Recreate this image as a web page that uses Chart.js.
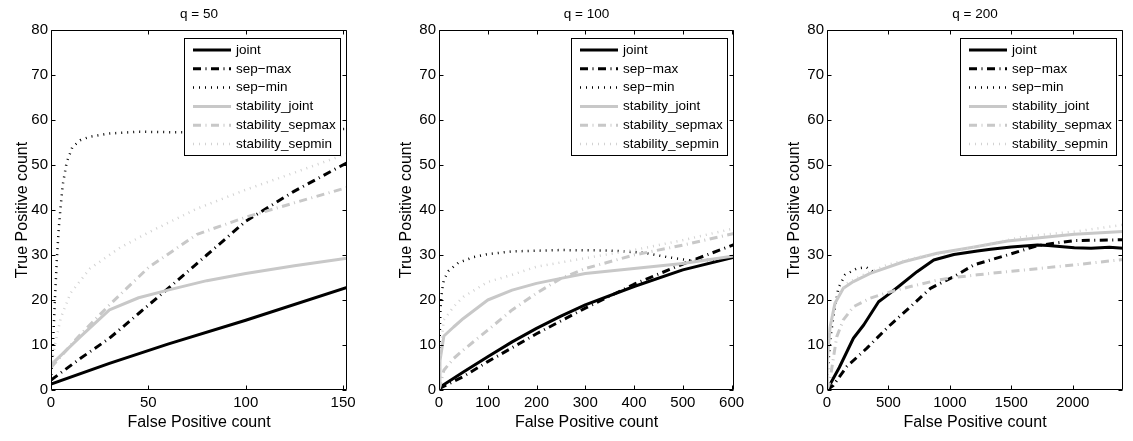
<!DOCTYPE html>
<html>
<head>
<meta charset="utf-8">
<script src="https://cdn.jsdelivr.net/npm/chart.js@4.4.1/dist/chart.umd.min.js"></script>
<style>
  html, body { margin: 0; padding: 0; background: #fff; }
  body { width: 1133px; height: 441px; position: relative; overflow: hidden; }
  canvas { position: absolute; top: 0; }
</style>
</head>
<body>
<canvas id="c1" width="363" height="441" style="left:0px"></canvas>
<canvas id="c2" width="362" height="441" style="left:388px"></canvas>
<canvas id="c3" width="357" height="441" style="left:776px"></canvas>
<script>
// legend labels, in plotting order
const seriesNames = ['joint', 'sep\u2212max', 'sep\u2212min', 'stability_joint', 'stability_sepmax', 'stability_sepmin'];
const panelTitles = ['q = 50', 'q = 100', 'q = 200'];
const xMax = [152, 605, 2410];
const xTicks50 = [0, 50, 100, 150];
const xTicks100 = [0, 100, 200, 300, 400, 500, 600];
const xTicks200 = [0, 500, 1000, 1500, 2000];
const yTicks = [0, 10, 20, 30, 40, 50, 60, 70, 80];

// q = 50   [false positives, true positives]
const q50_joint = [[0,1.3],[30,5.9],[60,10.2],[100,15.5],[152,22.8]];
const q50_sepmax = [[0,2.2],[15,7],[30,11.5],[45,17],[60,22.5],[80,30],[100,37.5],[125,44.2],[152,50.5]];
const q50_sepmin = [[0,2],[1,10],[2,20],[3,29],[4,36],[5,41],[6,45.5],[8,50.5],[11,54],[15,55.5],[20,56.3],[30,57],[45,57.4],[60,57.3],[80,57.2],[100,57.5],[152,58]];
const q50_stabjoint = [[0,5.6],[15,11.8],[30,17.8],[45,20.5],[60,22.2],[80,24.3],[100,25.9],[125,27.6],[152,29.3]];
const q50_stabsepmax = [[0,5],[15,12.3],[30,18.9],[50,27.2],[75,34.6],[100,38.4],[125,41.6],[152,45]];
const q50_stabsepmin = [[0,5],[2,10],[5,16],[10,21.5],[20,27],[35,31.5],[50,35],[75,40.3],[100,44.5],[125,48.3],[152,52.5]];

// q = 100
const q100_joint = [[0,0.5],[50,4],[100,7.4],[150,10.7],[200,13.7],[250,16.4],[300,18.9],[400,23],[500,26.7],[605,29.5]];
const q100_sepmax = [[0,0.3],[50,3],[100,6.3],[200,12.5],[300,18.2],[400,23.5],[500,28],[605,32.3]];
const q100_sepmin = [[0,0],[1,10],[3,18],[6,22],[10,24.5],[20,26.5],[40,28.3],[70,29.5],[100,30.2],[150,30.8],[250,31.1],[350,31],[420,30.5],[470,29.5],[520,28.7],[570,29],[605,29.7]];
const q100_stabjoint = [[0,1],[2,6.5],[10,12],[30,14],[50,15.9],[100,20],[150,22.2],[200,23.7],[250,24.8],[300,25.9],[400,27],[500,28.1],[605,29.8]];
const q100_stabsepmax = [[0,0],[10,4.4],[30,7],[50,8.9],[100,13.3],[150,17.8],[200,21.5],[250,24.8],[300,27],[400,30],[500,32.2],[605,34.8]];
const q100_stabsepmin = [[0,1],[3,9],[10,15.6],[30,18.5],[50,20.7],[100,24],[150,25.6],[200,27.4],[300,29.3],[400,31.1],[500,33.3],[605,35.9]];

// q = 200
const q200_joint = [[0,0],[100,5],[215,11.5],[300,14.5],[420,19.6],[474,20.7],[583,23],[733,26.3],[869,28.9],[1033,30.1],[1224,30.9],[1333,31.3],[1500,31.8],[1714,32.2],[1800,32.1],[2014,31.6],[2150,31.5],[2300,31.7],[2410,31.5]];
const q200_sepmax = [[0,0],[50,1],[161,5.2],[325,9.3],[501,14.1],[679,18.5],[842,22.6],[1033,25.2],[1196,27.8],[1469,30],[1714,32.1],[2014,33.2],[2410,33.4]];
const q200_sepmin = [[0,2],[11,5.9],[30,12],[52,16.3],[92,22.6],[147,25.6],[243,27],[320,27.3],[380,26.2]];
const q200_stabjoint = [[0,1],[2,6.7],[25,14],[65,19.3],[133,22.6],[215,24.1],[352,25.9],[624,28.5],[897,30.4],[1200,31.8],[1469,33.1],[2014,34.6],[2410,35.2]];
const q200_stabsepmax = [[0,0],[20,1.5],[79,11.8],[133,15.6],[215,18.5],[352,20.4],[474,21.5],[679,23],[897,24.4],[1006,24.9],[1224,25.6],[1469,26.3],[2014,27.8],[2410,29]];
const q200_stabsepmin = [[0,2],[10,8.9],[38,16.3],[79,20.7],[161,23.7],[297,25.6],[488,27.8],[760,29.6],[1000,30.6],[1300,32.3],[1605,34.1],[2014,35.2],[2410,36.7]];

const FONT = "'Liberation Sans', Arial, Helvetica, sans-serif";
Chart.defaults.font.family = FONT;
Chart.defaults.color = '#000';

// matlab-ish line styles
const styles = [
  { color: '#000000', width: 3, dash: [] },
  { color: '#000000', width: 3, dash: [8, 4.5, 1, 4.5] },
  { color: '#000000', width: 2.5, dash: [1, 5] },
  { color: '#c8c8c8', width: 3, dash: [] },
  { color: '#c8c8c8', width: 3, dash: [8, 4.5, 1, 4.5] },
  { color: '#d2d2d2', width: 2.5, dash: [1, 5] }
];

const boxPlugin = {
  id: 'matlabBox',
  afterDraw(chart) {
    const { ctx, chartArea: a, scales } = chart;
    ctx.save();
    // legend
    const bx = a.right - 163, by = a.top + 8, bw = 156, bh = 117;
    ctx.fillStyle = '#fff';
    ctx.fillRect(bx, by, bw, bh);
    ctx.strokeStyle = '#000';
    ctx.lineWidth = 1;
    ctx.setLineDash([]);
    ctx.strokeRect(Math.round(bx) + 0.5, Math.round(by) + 0.5, bw, bh);
    ctx.font = '13.5px ' + FONT;
    ctx.textBaseline = 'middle';
    ctx.textAlign = 'left';
    chart.data.datasets.forEach((ds, i) => {
      const cy = by + 12 + i * 18.8;
      ctx.beginPath();
      ctx.setLineDash(ds.borderDash || []);
      ctx.lineWidth = ds.borderWidth;
      ctx.strokeStyle = ds.borderColor;
      ctx.moveTo(bx + 9, cy);
      ctx.lineTo(bx + 47, cy);
      ctx.stroke();
      ctx.fillStyle = '#000';
      ctx.fillText(ds.label, bx + 52, cy);
    });
    // axes box and inward ticks
    ctx.setLineDash([]);
    ctx.lineWidth = 1;
    ctx.strokeStyle = '#000';
    const L = Math.round(a.left) + 0.5, R = Math.round(a.right) - 0.5;
    const T = Math.round(a.top) + 0.5, B = Math.round(a.bottom) - 0.5;
    ctx.beginPath();
    ctx.rect(L, T, R - L, B - T);
    scales.x.ticks.forEach(t => {
      const px = Math.round(scales.x.getPixelForValue(t.value)) + 0.5;
      ctx.moveTo(px, B); ctx.lineTo(px, B - 4);
      ctx.moveTo(px, T); ctx.lineTo(px, T + 4);
    });
    scales.y.ticks.forEach(t => {
      const py = Math.round(scales.y.getPixelForValue(t.value)) + 0.5;
      ctx.moveTo(L, py); ctx.lineTo(L + 4, py);
      ctx.moveTo(R, py); ctx.lineTo(R - 4, py);
    });
    ctx.stroke();
    ctx.restore();
  }
};

function makePanel(id, title, series, max, ticks, yTitlePad, rightPad) {
  const datasets = series.map((pts, i) => ({
    label: seriesNames[i],
    data: pts.map(([x, y]) => ({ x, y })),
    borderColor: styles[i].color,
    borderWidth: styles[i].width,
    borderDash: styles[i].dash,
    borderCapStyle: 'butt',
    borderJoinStyle: 'round',
    pointRadius: 0,
    tension: 0,
    fill: false,
    order: 10 - i
  }));
  return new Chart(document.getElementById(id), {
    type: 'line',
    data: { datasets },
    plugins: [boxPlugin],
    options: {
      responsive: false,
      animation: false,
      events: [],
      layout: { padding: { left: 0, right: rightPad, top: 0, bottom: 0 } },
      plugins: {
        legend: { display: false },
        tooltip: { enabled: false },
        title: {
          display: true, text: title, fullSize: false,
          font: { size: 13.5, weight: 'normal' }, color: '#000',
          padding: { top: 6, bottom: 7.8 }
        }
      },
      scales: {
        x: {
          type: 'linear', min: 0, max: max,
          afterBuildTicks: s => { s.ticks = ticks.map(v => ({ value: v })); },
          afterFit: s => { s.height = 51; },
          grid: { display: false, drawTicks: false },
          border: { display: false },
          ticks: { font: { size: 15 }, color: '#000', padding: 4, maxRotation: 0, autoSkip: false, callback: v => String(v) },
          title: { display: true, text: 'False Positive count', font: { size: 16 }, color: '#000', padding: { top: 0, bottom: 8.4 } }
        },
        y: {
          type: 'linear', min: 0, max: 80,
          afterBuildTicks: s => { s.ticks = yTicks.map(v => ({ value: v })); },
          afterFit: s => { s.width = 51; },
          grid: { display: false, drawTicks: false },
          border: { display: false },
          ticks: { font: { size: 15 }, color: '#000', padding: 3, autoSkip: false, callback: v => String(v) },
          title: { display: true, text: 'True Positive count', font: { size: 16 }, color: '#000', padding: { top: yTitlePad, bottom: 0 } }
        }
      }
    }
  });
}

makePanel('c1', panelTitles[0], [q50_joint, q50_sepmax, q50_sepmin, q50_stabjoint, q50_stabsepmax, q50_stabsepmin], xMax[0], xTicks50, 13.4, 16);
makePanel('c2', panelTitles[1], [q100_joint, q100_sepmax, q100_sepmin, q100_stabjoint, q100_stabsepmax, q100_stabsepmin], xMax[1], xTicks100, 8.8, 16);
makePanel('c3', panelTitles[2], [q200_joint, q200_sepmax, q200_sepmin, q200_stabjoint, q200_stabsepmax, q200_stabsepmin], xMax[2], xTicks200, 9.4, 10);
</script>
</body>
</html>
